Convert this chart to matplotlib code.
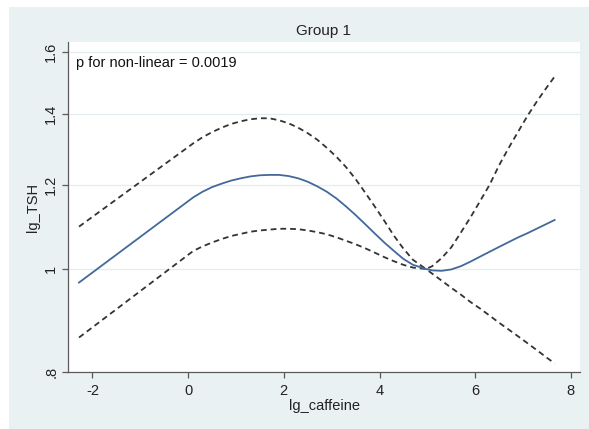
"""Restricted cubic spline plot: lg_TSH vs lg_caffeine (Group 1), Stata look."""
import matplotlib
matplotlib.use("Agg")
import matplotlib.pyplot as plt
from matplotlib.patches import Rectangle
from matplotlib.ticker import FixedLocator, FixedFormatter, NullLocator

plt.rcParams["font.family"] = ["Liberation Sans", "DejaVu Sans"]

# values
lg_caffeine = [-2.28, 0.11, 0.3, 0.5, 0.7, 0.9, 1.1, 1.3, 1.5, 1.7,
               1.9, 2.1, 2.3, 2.5, 2.7, 2.9, 3.1, 3.3, 3.5, 3.7,
               3.9, 4.1, 4.3, 4.5, 4.7, 4.97, 5.1, 5.3, 5.5, 5.7,
               5.9, 6.1, 6.3, 6.5, 6.7, 6.9, 7.1, 7.3, 7.5, 7.66]
estimate = [0.971, 1.168, 1.182, 1.194, 1.203, 1.211, 1.217, 1.222, 1.225, 1.226,
            1.226, 1.223, 1.217, 1.208, 1.196, 1.182, 1.165, 1.145, 1.124, 1.102,
            1.080, 1.059, 1.040, 1.022, 1.009, 1.000, 0.997, 0.996, 0.999, 1.006,
            1.016, 1.027, 1.038, 1.049, 1.060, 1.071, 1.081, 1.092, 1.103, 1.112]
upper_ci = [1.096, 1.313, 1.330, 1.345, 1.358, 1.369, 1.377, 1.383, 1.386, 1.386,
            1.380, 1.371, 1.358, 1.342, 1.323, 1.300, 1.275, 1.247, 1.215, 1.180,
            1.145, 1.110, 1.075, 1.045, 1.020, 1.000, 1.006, 1.024, 1.048, 1.082,
            1.118, 1.158, 1.200, 1.252, 1.300, 1.347, 1.395, 1.440, 1.483, 1.517]
lower_ci = [0.862, 1.040, 1.050, 1.059, 1.067, 1.074, 1.079, 1.084, 1.087, 1.089,
            1.091, 1.091, 1.090, 1.087, 1.083, 1.078, 1.071, 1.063, 1.055, 1.046,
            1.036, 1.026, 1.017, 1.009, 1.003, 1.000, 0.990, 0.975, 0.960, 0.946,
            0.931, 0.918, 0.904, 0.890, 0.877, 0.864, 0.851, 0.838, 0.825, 0.815]

y_ticks = [0.8, 1.0, 1.2, 1.4, 1.6]
y_tick_labels = [".8", "1", "1.2", "1.4", "1.6"]
x_ticks = [-2, 0, 2, 4, 6, 8]

BG = "#EAF1F3"
AXIS = "#5A5A5A"

W, H = 589, 429
fig = plt.figure(figsize=(W / 100, H / 100), dpi=100)
fig.patch.set_facecolor("white")
# Stata graph region (light blue panel, white strip top/left)
fig.add_artist(Rectangle((9 / W, 0), 1 - 9 / W, 1 - 7 / H,
                         transform=fig.transFigure, facecolor=BG,
                         edgecolor="none", zorder=-10))

ax = fig.add_axes([68 / W, 1 - 372 / H, (580 - 68) / W, (372 - 42) / H])
ax.set_zorder(1)
ax.set_facecolor("white")

ax.plot(lg_caffeine, upper_ci, color="#333333", lw=1.3, ls=(0, (3.2, 2.2)))
ax.plot(lg_caffeine, lower_ci, color="#333333", lw=1.3, ls=(0, (3.2, 2.2)))
ax.plot(lg_caffeine, estimate, color="#42699A", lw=1.3)

ax.set_yscale("log")
ax.set_ylim(0.8, 1.635)
ax.set_xlim(-2.51, 8.19)

ax.yaxis.set_major_locator(FixedLocator(y_ticks))
ax.yaxis.set_major_formatter(FixedFormatter(y_tick_labels))
ax.yaxis.set_minor_locator(NullLocator())
ax.set_xticks(x_ticks)
ax.set_xticklabels([str(t) for t in x_ticks])

ax.grid(axis="y", color="#E3ECEF", lw=0.9)
ax.set_axisbelow(True)

for side in ("top", "right"):
    ax.spines[side].set_visible(False)
for side in ("left", "bottom"):
    ax.spines[side].set_color(AXIS)
    ax.spines[side].set_linewidth(0.9)

ax.tick_params(axis="both", direction="out", length=4.5, width=0.9,
               color=AXIS, labelsize=10.5, labelcolor="#222222", pad=4)
ax.tick_params(axis="y", pad=2.5)
for lab in ax.get_yticklabels():
    lab.set_rotation(90)
    lab.set_va("center")

ax.set_xlabel("lg_caffeine", fontsize=10.5, color="#222222", labelpad=1)
ax.set_ylabel("lg_TSH", fontsize=10.5, color="#222222", labelpad=3)

ax.text(0.016, 0.936, "p for non-linear = 0.0019", transform=ax.transAxes,
        fontsize=10.5, color="#111111", va="center", ha="left")

fig.text(324 / W, 1 - 31.5 / H, "Group 1", fontsize=11, color="#222222",
         ha="center", va="center")

fig.savefig("out.png", dpi=100, facecolor=fig.get_facecolor())
plt.close(fig)
